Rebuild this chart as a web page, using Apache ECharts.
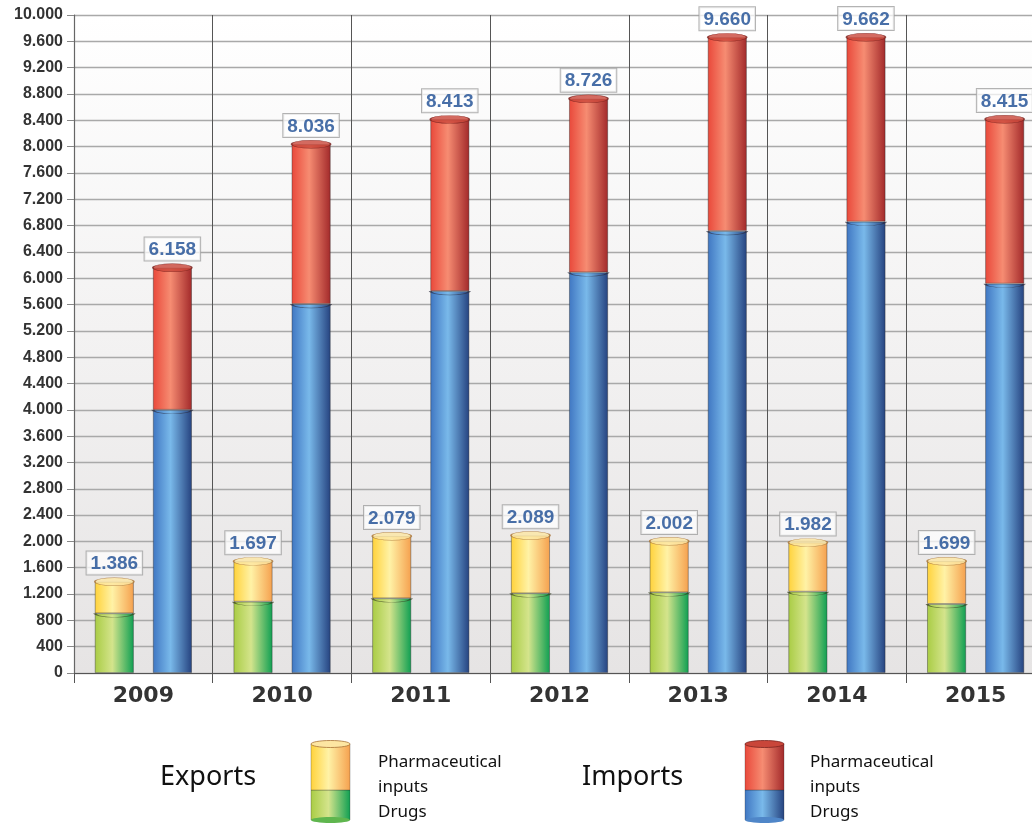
<!DOCTYPE html>
<html>
<head>
<meta charset="utf-8">
<script src="https://cdn.jsdelivr.net/npm/echarts@6/dist/echarts.min.js"></script>
<style>
html,body{margin:0;padding:0;background:#fff;overflow:hidden;width:1032px;height:824px;}
#c{width:1045px;height:824px;}
</style>
</head>
<body>
<div id="c"></div>
<script>
const years = ['2009','2010','2011','2012','2013','2014','2015'];
const exportDrugs  = [907, 1084, 1135, 1211, 1226, 1236, 1049];
const exportInputs = [479, 613, 944, 878, 776, 746, 650];
const exportTotals = [1386, 1697, 2079, 2089, 2002, 1982, 1699];
const importDrugs  = [4000, 5608, 5805, 6089, 6717, 6859, 5917];
const importInputs = [2158, 2428, 2608, 2637, 2943, 2803, 2498];
const importTotals = [6158, 8036, 8413, 8726, 9660, 9662, 8415];

function fmt(v){ return String(v).replace(/\B(?=(\d{3})+(?!\d))/g,'.'); }
function hgrad(a,b,c){
  return new echarts.graphic.LinearGradient(0,0,1,0,[
    {offset:0,color:a},{offset:0.45,color:b},{offset:1,color:c}]);
}
const cGreen  = () => hgrad('#a9cc44','#d4e48c','#0e9f52');
const cYellow = () => hgrad('#ffd23a','#fff2a6','#f5a04e');
const cBlue   = () => hgrad('#3f76c2','#79b9ea','#25427f');
const cRed    = () => hgrad('#e9483a','#f68c72','#a2292a');

const BW = 39, OFF = 29;
const barBase = {type:'bar', barWidth:BW, barGap:'49%',
  itemStyle:{borderColor:'rgba(40,40,40,0.5)', borderWidth:0.8}};

const labelStyle = {
  show:true, position:'top', distance:3,
  formatter:(p)=>fmt(p.value),
  color:'#1a4b92', fontWeight:'bold', fontSize:19,
  fontFamily:'Liberation Sans, Arial, sans-serif',
  backgroundColor:'rgba(255,255,255,0.92)', borderColor:'#a0a0a0', borderWidth:1,
  padding:[3,4,1,4]
};

const chart = echarts.init(document.getElementById('c'), null, {renderer:'canvas'});
chart.setOption({
  animation:false,
  grid:{left:74, right:0, top:15, bottom:151, show:true, borderWidth:0,
    backgroundColor:new echarts.graphic.LinearGradient(0,0,0,1,[
      {offset:0,color:'#ffffff'},{offset:1,color:'#e6e4e4'}])},
  xAxis:{type:'category', data:years,
    axisLine:{lineStyle:{color:'#555',width:1.2}},
    axisTick:{show:true,length:10,lineStyle:{color:'#555'}},
    splitLine:{show:true,lineStyle:{color:'#555',width:1}},
    axisLabel:{color:'#333',fontSize:22,fontWeight:'bold',margin:12,
      fontFamily:'DejaVu Sans, sans-serif'}},
  yAxis:{type:'value', min:0, max:10000, interval:400,
    axisLine:{show:true,lineStyle:{color:'#666',width:1.2}},
    axisTick:{show:true,length:7,lineStyle:{color:'#888'}},
    splitLine:{show:true,lineStyle:{color:'#a9a9a9',width:1.3}},
    axisLabel:{color:'#333',fontSize:16,fontWeight:'bold',margin:11,
      fontFamily:'Liberation Sans, Arial, sans-serif',formatter:fmt}},
  series:[
    Object.assign({}, barBase, {name:'Exports drugs', stack:'exp', data:exportDrugs,
      itemStyle:Object.assign({}, barBase.itemStyle, {color:cGreen()})}),
    Object.assign({}, barBase, {name:'Exports inputs', stack:'exp', data:exportInputs,
      itemStyle:Object.assign({}, barBase.itemStyle, {color:cYellow()})}),
    Object.assign({}, barBase, {name:'Imports drugs', stack:'imp', data:importDrugs,
      itemStyle:Object.assign({}, barBase.itemStyle, {color:cBlue()})}),
    Object.assign({}, barBase, {name:'Imports inputs', stack:'imp', data:importInputs,
      itemStyle:Object.assign({}, barBase.itemStyle, {color:cRed()})}),
    {type:'scatter', data:exportDrugs, z:4, silent:true,
      symbol:'path://M0,0 A20,4 0 0 0 40,0', symbolSize:[BW,4], symbolOffset:[-OFF,2],
      itemStyle:{color:'rgba(0,0,0,0)',borderColor:'rgba(50,60,30,0.8)',borderWidth:1}},
    {type:'scatter', data:importDrugs, z:4, silent:true,
      symbol:'path://M0,0 A20,4 0 0 0 40,0', symbolSize:[BW,4], symbolOffset:[OFF,2],
      itemStyle:{color:'rgba(0,0,0,0)',borderColor:'rgba(40,40,60,0.8)',borderWidth:1}},
    {type:'scatter', data:exportTotals, z:5, silent:true,
      symbol:'circle', symbolSize:[BW,8], symbolOffset:[-OFF,0],
      itemStyle:{color:'#fde6a2',borderColor:'#a87236',borderWidth:0.8},
      label:labelStyle},
    {type:'scatter', data:importTotals, z:5, silent:true,
      symbol:'circle', symbolSize:[BW,8], symbolOffset:[OFF,0],
      itemStyle:{color:'#c9463a',borderColor:'#7a2420',borderWidth:0.8},
      label:labelStyle}
  ],
  graphic:[
    {type:'text', left:160, top:764, style:{text:'Exports', fontSize:27, fill:'#111',
      fontFamily:'Noto Sans, Open Sans, sans-serif'}},
    {type:'rect', shape:{x:311,y:790,width:39,height:30}, style:{fill:cGreen(),stroke:'rgba(40,40,40,0.35)',lineWidth:0.8}},
    {type:'ellipse', shape:{cx:330.5,cy:820,rx:19.5,ry:3}, style:{fill:'#5fb64e'}},
    {type:'rect', shape:{x:311,y:744,width:39,height:46}, style:{fill:cYellow(),stroke:'rgba(40,40,40,0.35)',lineWidth:0.8}},
    {type:'ellipse', shape:{cx:330.5,cy:744,rx:19.5,ry:3.5}, style:{fill:'#fde6a2',stroke:'#a87236',lineWidth:0.8}},
    {type:'text', left:378, top:750, style:{text:'Pharmaceutical\ninputs\nDrugs', fontSize:17, lineHeight:25,
      fill:'#111', fontFamily:'Noto Sans, Open Sans, sans-serif'}},
    {type:'text', left:582, top:764, style:{text:'Imports', fontSize:27, fill:'#111',
      fontFamily:'Noto Sans, Open Sans, sans-serif'}},
    {type:'rect', shape:{x:745,y:790,width:39,height:30}, style:{fill:cBlue(),stroke:'rgba(40,40,40,0.35)',lineWidth:0.8}},
    {type:'ellipse', shape:{cx:764.5,cy:820,rx:19.5,ry:3}, style:{fill:'#4f86c8'}},
    {type:'rect', shape:{x:745,y:744,width:39,height:46}, style:{fill:cRed(),stroke:'rgba(40,40,40,0.35)',lineWidth:0.8}},
    {type:'ellipse', shape:{cx:764.5,cy:744,rx:19.5,ry:3.5}, style:{fill:'#c9463a',stroke:'#7a2420',lineWidth:0.8}},
    {type:'text', left:810, top:750, style:{text:'Pharmaceutical\ninputs\nDrugs', fontSize:17, lineHeight:25,
      fill:'#111', fontFamily:'Noto Sans, Open Sans, sans-serif'}}
  ]
});
</script>
</body>
</html>
